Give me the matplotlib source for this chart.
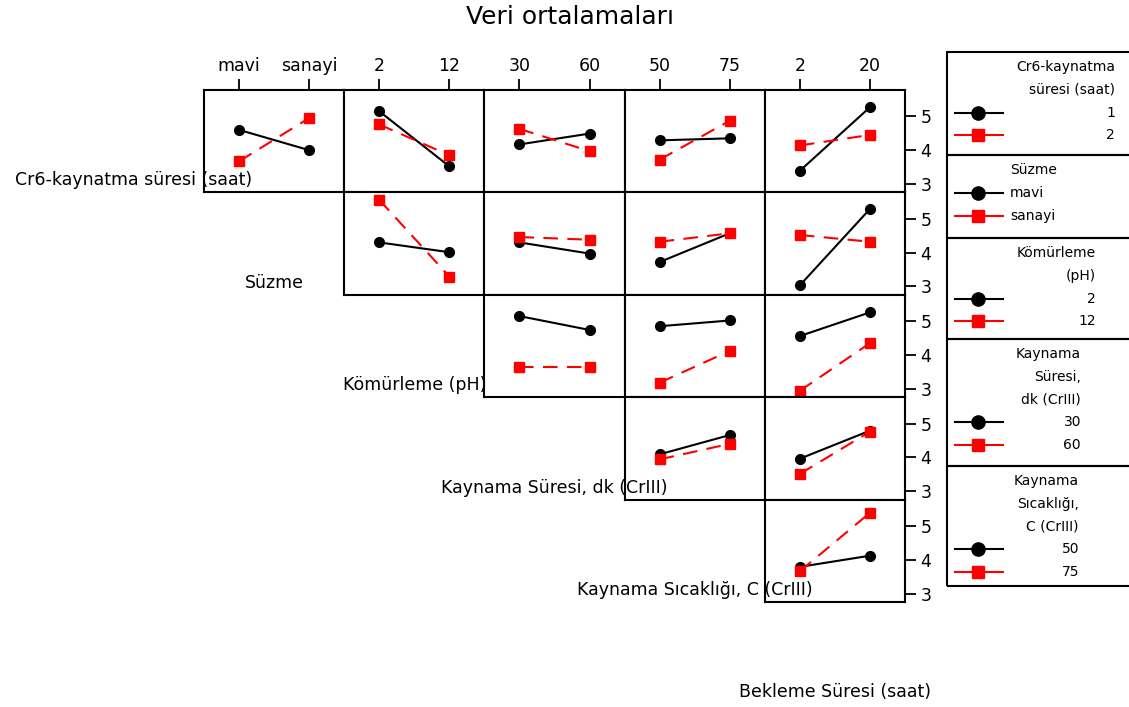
import matplotlib
matplotlib.use("Agg")
import matplotlib.pyplot as plt
from matplotlib.lines import Line2D
from matplotlib.patches import Rectangle

# Factors (in order) and their two levels
factor_names = ["Cr6-kaynatma süresi (saat)", "Süzme", "Kömürleme (pH)",
                "Kaynama Süresi, dk (CrIII)", "Kaynama Sıcaklığı, C (CrIII)",
                "Bekleme Süresi (saat)"]
factor_levels = [["1", "2"], ["mavi", "sanayi"], ["2", "12"],
                 ["30", "60"], ["50", "75"], ["2", "20"]]
legend_titles = ["Cr6-kaynatma\nsüresi (saat)", "Süzme", "Kömürleme\n(pH)",
                 "Kaynama\nSüresi,\ndk (CrIII)", "Kaynama\nSıcaklığı,\nC (CrIII)"]

# Means: row = trace factor, one [low, high] pair per x-factor column
cr6_lvl1 = [[4.60, 4.00], [5.15, 3.52], [4.17, 4.49], [4.29, 4.35], [3.39, 5.27]]
cr6_lvl2 = [[3.67, 4.95], [4.76, 3.85], [4.63, 3.97], [3.72, 4.87], [4.14, 4.45]]
suzme_lvl1 = [[4.30, 4.01], [4.30, 3.97], [3.72, 4.57], [3.03, 5.29]]
suzme_lvl2 = [[5.56, 3.29], [4.46, 4.38], [4.32, 4.57], [4.52, 4.32]]
ph_lvl1 = [[5.15, 4.74], [4.85, 5.02], [4.56, 5.26]]
ph_lvl2 = [[3.65, 3.65], [3.18, 4.12], [2.94, 4.35]]
sure_lvl1 = [[4.09, 4.66], [3.96, 4.79]]
sure_lvl2 = [[3.94, 4.40], [3.51, 4.76]]
sicak_lvl1 = [[3.79, 4.12]]
sicak_lvl2 = [[3.66, 5.39]]

rows_lvl1 = [cr6_lvl1, suzme_lvl1, ph_lvl1, sure_lvl1, sicak_lvl1]
rows_lvl2 = [cr6_lvl2, suzme_lvl2, ph_lvl2, sure_lvl2, sicak_lvl2]
y_ticks = [3, 4, 5]

W, H = 1129, 707
fig = plt.figure(figsize=(W / 100, H / 100), dpi=100)
plt.rcParams['font.family'] = ['DejaVu Sans']


def fx(px):
    return px / W


def fy(py):
    return 1 - py / H


x0, cw = 204, 140.2
y0, rh = 90, 102.4
red_dash = (0, (7, 4.5))

for i in range(5):
    for k, j in enumerate(range(i, 5)):
        ax = fig.add_axes([fx(x0 + j * cw), fy(y0 + (i + 1) * rh), cw / W, rh / H])
        ax.plot([0, 1], rows_lvl1[i][k], color="black", lw=1.5, marker="o", ms=7)
        ax.plot([0, 1], rows_lvl2[i][k], color="red", lw=1.5, ls=red_dash,
                marker="s", ms=7.5)
        ax.set_xlim(-0.5, 1.5)
        ax.set_ylim(2.75, 5.78)
        for s in ax.spines.values():
            s.set_linewidth(1.5)
        if i == 0:
            ax.xaxis.tick_top()
            ax.set_xticks([0, 1], factor_levels[j + 1])
        else:
            ax.set_xticks([])
        if j == 4:
            ax.yaxis.tick_right()
            ax.set_yticks(y_ticks, [str(t) for t in y_ticks])
        else:
            ax.set_yticks([])
        ax.tick_params(direction="out", length=8, width=1.3, labelsize=12.5, pad=3)

# factor labels in the empty diagonal cells
for f, name in enumerate(factor_names):
    cx = x0 + (f - 0.5) * cw
    by = y0 + (f + 1) * rh - 3
    fig.text(fx(cx), fy(by), name, ha="center", va="bottom", fontsize=12.5, zorder=5)

fig.text(fx(570), fy(17), "Veri ortalamaları", ha="center", va="center", fontsize=18)

# legend boxes on the right
box_edges = [52, 155, 238, 339, 466, 586]
text_x = [(1115, "right"), (1010, "left"), (1096, "right"), (1081, "right"), (1079, "right")]
for b in range(5):
    top, bot = box_edges[b], box_edges[b + 1]
    fig.patches.append(Rectangle((fx(947), fy(bot)), fx(200), (bot - top) / H,
                                 transform=fig.transFigure, fill=False,
                                 edgecolor="black", lw=1.5))
    title_lines = legend_titles[b].split("\n")
    lines = title_lines + factor_levels[b]
    n = len(lines)
    tx, ha = text_x[b]
    for li, txt in enumerate(lines):
        py = top + 15 + li * 22.8
        fig.text(fx(tx), fy(py), txt, ha=ha, va="center", fontsize=10)
        if li >= len(title_lines):
            is_red = li == n - 1
            fig.lines.append(Line2D([fx(955), fx(1003)], [fy(py), fy(py)],
                                    transform=fig.transFigure,
                                    color="red" if is_red else "black", lw=1.5))
            fig.lines.append(Line2D([fx(978)], [fy(py)], transform=fig.transFigure,
                                    color="red" if is_red else "black",
                                    marker="s" if is_red else "o",
                                    ms=9 if is_red else 9.5, ls="none"))

fig.savefig("out.png", dpi=100)
